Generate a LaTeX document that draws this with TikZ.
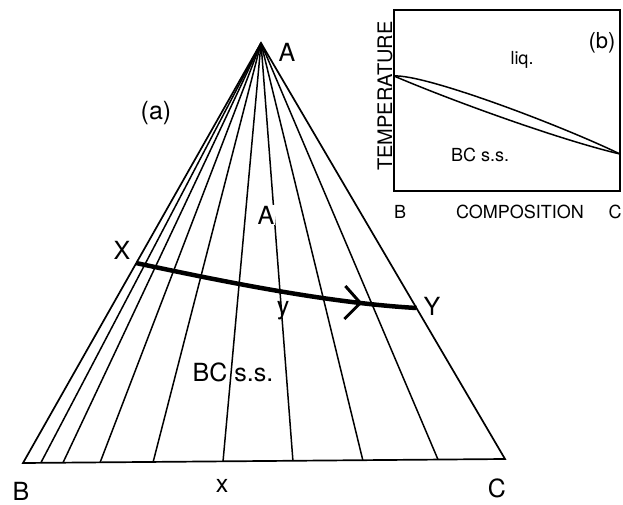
\documentclass[tikz,border=0pt]{standalone}
\usepackage{fontspec}
\setmainfont{TeX Gyre Heros}
\usetikzlibrary{calc}

\begin{document}
\begin{tikzpicture}[
  x=1pt, y=-1pt,
  font=\fontsize{25}{28}\selectfont,
  side/.style={line width=1.7pt, line join=miter},
  tie/.style={line width=1.5pt},
  route/.style={line width=4.5pt},
  barb/.style={line width=3pt, line join=miter},
  lab/.style={inner sep=1pt},
  small/.style={font=\fontsize{18}{20}\selectfont, inner sep=1pt}]
\useasboundingbox (0,0) rectangle (623,505);
\coordinate (A) at (261,43);
\coordinate (B) at (23,463);
\coordinate (C) at (505,459);
\foreach \t in {0.037,0.083,0.160,0.270,0.415,0.560,0.705,0.861}
  \draw[tie] (A) -- ($(B)!\t!(C)$);
\draw[side] (A) -- (B) -- (C) -- cycle;
\coordinate (X) at ($(A)!0.524!(B)$);
\coordinate (Y) at ($(A)!0.637!(C)$);
\draw[route] (X) .. controls (230,283) and (330,303) .. (Y)
  coordinate[pos=0.79] (tip);
\draw[barb] ($(tip)+(-15,-17)$) -- (tip) -- ($(tip)+(-16,16)$);
\node[lab] (Atop) at (287,52) {A};
\node[lab, fill=white] (Amid) at (266,215) {A};
\node[lab] (pa) at (156,113) {(a)};
\node[lab] (Xl) at (122,250) {X};
\node[lab] (Yl) at (432,306) {Y};
\node[lab] (yl) at (283,311) {y};
\node[lab] (ss) at (233,372) {BC s.s.};
\node[lab] (Bl) at (21,491) {B};
\node[lab] (xl) at (222,486) {x};
\node[lab] (Cl) at (497,488) {C};
\draw[side] (394,10) rectangle (620,191);
\coordinate (TB) at (394,76);
\coordinate (TC) at (620,154);
\draw[tie] (TB) .. controls (425,74) and (560,125) .. (TC);
\draw[tie] (TB) .. controls (450,100) and (560,140) .. (TC);
\node[small, font=\fontsize{20}{22}\selectfont, rotate=90] (temp) at (385,96) {TEMPERATURE};
\node[small] (liq) at (522,60) {liq.};
\node[lab, font=\fontsize{22}{24}\selectfont] (pb) at (602,43) {(b)};
\node[small] (ssb) at (480,155) {BC s.s.};
\node[small] (bB) at (400,212) {B};
\node[small] (comp) at (520,212) {COMPOSITION};
\node[small] (bC) at (615,212) {C};
\end{tikzpicture}
\end{document}
